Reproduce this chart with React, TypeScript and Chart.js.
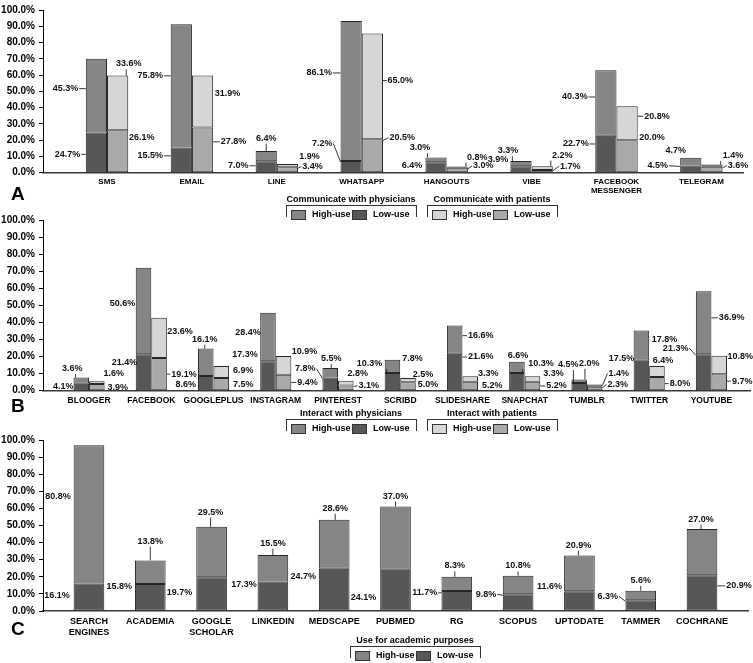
import React, { useEffect, useRef } from "react";
import { Chart, registerables } from "chart.js";

Chart.register(...registerables);

const FONT = '"Liberation Sans", Arial, Helvetica, sans-serif';

// ---------- Panel A: communication ----------
const A_CATEGORIES: (string | string[])[] = ["SMS", "EMAIL", "LINE", "WHATSAPP", "HANGOUTS", "VIBE", ["FACEBOOK", "MESSENGER"], "TELEGRAM"];
const A_PHYS_LOW = [24.7, 15.5, 7.0, 7.2, 6.4, 3.9, 22.7, 4.5];
const A_PHYS_HIGH = [45.3, 75.8, 6.4, 86.1, 3.0, 3.3, 40.3, 4.7];
const A_PAT_LOW = [26.1, 27.8, 3.4, 20.5, 3.0, 1.7, 20.0, 3.6];
const A_PAT_HIGH = [33.6, 31.9, 1.9, 65.0, 0.8, 2.2, 20.8, 1.4];

// ---------- Panel B: social media ----------
const B_CATEGORIES: (string | string[])[] = ["BLOOGER", "FACEBOOK", "GOOGLEPLUS", "INSTAGRAM", "PINTEREST", "SCRIBD", "SLIDESHARE", "SNAPCHAT", "TUMBLR", "TWITTER", "YOUTUBE"];
const B_PHYS_LOW = [4.1, 21.4, 8.6, 17.3, 7.8, 10.3, 21.6, 10.3, 4.5, 17.5, 21.3];
const B_PHYS_HIGH = [3.6, 50.6, 16.1, 28.4, 5.5, 7.8, 16.6, 6.6, 2.0, 17.8, 36.9];
const B_PAT_LOW = [3.9, 19.1, 7.5, 9.4, 3.1, 5.0, 5.2, 5.2, 2.3, 8.0, 9.7];
const B_PAT_HIGH = [1.6, 23.6, 6.9, 10.9, 2.8, 2.5, 3.3, 3.3, 1.4, 6.4, 10.8];

// ---------- Panel C: academic ----------
const C_CATEGORIES: (string | string[])[] = [["SEARCH", "ENGINES"], "ACADEMIA", ["GOOGLE", "SCHOLAR"], "LINKEDIN", "MEDSCAPE", "PUBMED", "RG", "SCOPUS", "UPTODATE", "TAMMER", "COCHRANE"];
const C_LOW = [16.1, 15.8, 19.7, 17.3, 24.7, 24.1, 11.7, 9.8, 11.6, 6.3, 20.9];
const C_HIGH = [80.8, 13.8, 29.5, 15.5, 28.6, 37.0, 8.3, 10.8, 20.9, 5.6, 27.0];

const Y_TICKS = [0, 10, 20, 30, 40, 50, 60, 70, 80, 90, 100];

// ---------- label placement (px offsets from segment centre) ----------
type Off = [number, number][];
const A_PHYS_LOW_OFF: Off = [[-29, 2], [-31, -4], [-28, -1], [-29, -23], [-24, -2], [-23, -10], [-30, -10], [-33, -3]];
const A_PHYS_HIGH_OFF: Off = [[-31, -7], [-31, -10], [0, -18], [-32, -18], [-16, -12], [-13, -13], [-31, -6], [-15, -11]];
const A_PAT_LOW_OFF: Off = [[24, -14], [31, -8], [25, -3], [30, -18], [26, -4], [28, -5], [25, -19], [26, -4]];
const A_PAT_HIGH_OFF: Off = [[11, -39], [25, -8], [22, -9], [28, -6], [20, -10], [20, -13], [30, -7], [21, -10]];

const B_PHYS_LOW_OFF: Off = [[-18, 0], [-19, -10], [-20, 1], [-23, -21], [-25, -15], [-23, -18], [26, -15], [24, -18], [-11, -22], [-20, -17], [-28, -24]];
const B_PHYS_HIGH_OFF: Off = [[-9, -12], [-21, -7], [-1, -23], [-20, -4], [1, -14], [20, -8], [26, -4], [1, -12], [10, -18], [23, -6], [28, -5]];
const B_PAT_LOW_OFF: Off = [[21, 0], [25, 0], [22, 0], [24, 0], [23, -2], [20, -2], [22, 0], [24, 0], [23, -4], [23, 0], [23, -1]];
const B_PAT_HIGH_OFF: Off = [[17, -9], [21, -6], [22, -1], [21, -14], [12, -10], [15, -6], [18, -5], [21, -5], [24, -12], [6, -11], [21, -8]];

const C_LOW_OFF: Off = [[-32, -1], [-31, -11], [-32, -1], [-29, -11], [-31, -13], [-32, 7], [-32, -8], [-32, -8], [-30, -14], [-33, -9], [37, -7]];
const C_HIGH_OFF: Off = [[-31, -18], [0, -31], [-1, -40], [0, -25], [1, -36], [0, -42], [-2, -18], [0, -19], [-1, -28], [0, -15], [-1, -33]];

const COL = {
  physHigh: "#858585",
  physLow: "#575757",
  patHigh: "#d6d6d6",
  patLow: "#a9a9a9",
  border: "#262626",
};

function labelPlugin(offsets: Off[]) {
  return {
    id: "segLabels",
    afterDatasetsDraw(chart: any) {
      const ctx = chart.ctx as CanvasRenderingContext2D;
      ctx.save();
      ctx.font = `bold 9px ${FONT}`;
      ctx.textAlign = "center";
      ctx.textBaseline = "middle";
      ctx.fillStyle = "#111";
      ctx.strokeStyle = "#222";
      ctx.lineWidth = 0.9;
      chart.data.datasets.forEach((ds: any, di: number) => {
        const meta = chart.getDatasetMeta(di);
        const off = offsets[di] || [];
        meta.data.forEach((el: any, i: number) => {
          const p = el.getProps(["x", "y", "base", "width"], true);
          const v = ds.data[i].y as number;
          const text = v.toFixed(1) + "%";
          const [dx, dy] = off[i] || [0, 0];
          const top = Math.min(p.y, p.base);
          const bot = Math.max(p.y, p.base);
          const x0 = p.x - p.width / 2;
          const x1 = p.x + p.width / 2;
          const cx = p.x + dx;
          const cy = (top + bot) / 2 + dy;
          const w = ctx.measureText(text).width;
          const h = 9;
          const lx0 = cx - w / 2, lx1 = cx + w / 2, ly1 = cy + h / 2;
          const clampY = (yy: number) => Math.min(Math.max(yy, top + 1), Math.max(bot - 1, top + 1));
          const gap = 4;
          let draw = false;
          ctx.beginPath();
          if (lx1 < x0 - gap) {
            ctx.moveTo(lx1 + 1, cy);
            ctx.lineTo(x0, clampY(cy));
            draw = true;
          } else if (lx0 > x1 + gap) {
            ctx.moveTo(x1, clampY(cy));
            ctx.lineTo(lx0 - 1, cy);
            draw = true;
          } else if (ly1 < top - gap) {
            const lxp = Math.min(Math.max(cx, x0 + 2), x1 - 2);
            ctx.moveTo(lxp, ly1 + 1);
            ctx.lineTo(lxp, top);
            draw = true;
          }
          if (draw) ctx.stroke();
          ctx.fillText(text, cx, cy);
        });
      });
      ctx.restore();
    },
  };
}

function bar(label: string, values: number[], color: string, stack: string) {
  return {
    label,
    data: values.map((v, i) => ({ x: i, y: v })),
    backgroundColor: color,
    borderColor: COL.border,
    borderWidth: 1,
    borderSkipped: false as const,
    stack,
    categoryPercentage: 0.5,
    barPercentage: 1.0,
  };
}

interface PanelOpts {
  cats: (string | string[])[];
  datasets: any[];
  offsets: Off[];
  min: number;
  max: number;
  padTop: number;
  padRight: number;
  axisH: number;
  tickFont: number;
  tickLH: number;
}

function makeConfig(o: PanelOpts): any {
  return {
    type: "bar",
    data: { datasets: o.datasets },
    plugins: [labelPlugin(o.offsets)],
    options: {
      animation: false,
      responsive: false,
      devicePixelRatio: 1,
      layout: { padding: { top: o.padTop, right: o.padRight, left: 0, bottom: 0 } },
      plugins: { legend: { display: false }, tooltip: { enabled: false } },
      scales: {
        x: {
          type: "linear",
          stacked: true,
          min: o.min,
          max: o.max,
          bounds: "data",
          offset: false,
          grid: { display: false, drawTicks: false },
          border: { display: true, color: "#3a3a3a", width: 1.5 },
          afterBuildTicks: (ax: any) => {
            ax.ticks = o.cats.map((_, i) => ({ value: i }));
          },
          afterFit: (s: any) => {
            s.height = o.axisH;
          },
          ticks: {
            autoSkip: false,
            maxRotation: 0,
            minRotation: 0,
            padding: 5,
            color: "#000",
            font: { family: FONT, size: o.tickFont, weight: "bold", lineHeight: o.tickLH },
            callback: (v: any) => o.cats[Math.round(Number(v))] ?? "",
          },
        },
        y: {
          stacked: true,
          min: 0,
          max: 100,
          afterBuildTicks: (ax: any) => {
            ax.ticks = Y_TICKS.map((t) => ({ value: t }));
          },
          afterFit: (s: any) => {
            s.width = 43;
          },
          grid: { drawOnChartArea: false, drawTicks: true, tickLength: 4, color: "#000" },
          border: { display: true, color: "#000", width: 1 },
          ticks: {
            padding: 4,
            color: "#000",
            font: { family: FONT, size: 10, weight: "bold" },
            callback: (v: any) => Number(v).toFixed(1) + "%",
          },
        },
      },
    },
  };
}

function Panel({ top, height, opts }: { top: number; height: number; opts: PanelOpts }) {
  const ref = useRef<HTMLCanvasElement>(null);
  useEffect(() => {
    const chart = new Chart(ref.current as HTMLCanvasElement, makeConfig(opts));
    return () => chart.destroy();
  }, []);
  return (
    <canvas
      ref={ref}
      width={753}
      height={height}
      style={{ position: "absolute", left: 0, top, width: 753, height, display: "block" }}
    />
  );
}

interface LegendItem {
  label: string;
  color: string;
}

function LegendGroup({ left, top, title, items }: { left: number; top: number; title: string; items: LegendItem[] }) {
  const textStyle: React.CSSProperties = {
    position: "absolute",
    font: `bold 9px ${FONT}`,
    lineHeight: "10px",
    whiteSpace: "nowrap",
    color: "#000",
  };
  return (
    <div style={{ position: "absolute", left, top, width: 130, height: 26 }}>
      <div style={{ ...textStyle, left: -20, width: 170, top: 0, textAlign: "center" }}>{title}</div>
      <div
        style={{
          position: "absolute",
          left: 0,
          top: 11,
          width: 129,
          height: 11,
          borderTop: "1px solid #333",
          borderLeft: "1px solid #333",
          borderRight: "1px solid #333",
        }}
      />
      {items.map((it, k) => (
        <React.Fragment key={k}>
          <div
            style={{
              position: "absolute",
              left: 5 + k * 61,
              top: 16,
              width: 13,
              height: 8,
              background: it.color,
              border: "1px solid #333",
            }}
          />
          <div style={{ ...textStyle, left: 26 + k * 61, top: 15 }}>{it.label}</div>
        </React.Fragment>
      ))}
    </div>
  );
}

const letterStyle: React.CSSProperties = {
  position: "absolute",
  left: 11,
  font: `bold 19px ${FONT}`,
  lineHeight: "19px",
  color: "#000",
};

export default function App() {
  const optsA: PanelOpts = {
    cats: A_CATEGORIES,
    datasets: [
      bar("Physicians low-use", A_PHYS_LOW, COL.physLow, "phys"),
      bar("Physicians high-use", A_PHYS_HIGH, COL.physHigh, "phys"),
      bar("Patients low-use", A_PAT_LOW, COL.patLow, "pat"),
      bar("Patients high-use", A_PAT_HIGH, COL.patHigh, "pat"),
    ],
    offsets: [A_PHYS_LOW_OFF, A_PHYS_HIGH_OFF, A_PAT_LOW_OFF, A_PAT_HIGH_OFF],
    min: -0.754,
    max: 7.49,
    padTop: 5.7,
    padRight: 10,
    axisH: 27.3,
    tickFont: 8,
    tickLH: 1.1,
  };
  const optsB: PanelOpts = {
    cats: B_CATEGORIES,
    datasets: [
      bar("Physicians low-use", B_PHYS_LOW, COL.physLow, "phys"),
      bar("Physicians high-use", B_PHYS_HIGH, COL.physHigh, "phys"),
      bar("Patients low-use", B_PAT_LOW, COL.patLow, "pat"),
      bar("Patients high-use", B_PAT_HIGH, COL.patHigh, "pat"),
    ],
    offsets: [B_PHYS_LOW_OFF, B_PHYS_HIGH_OFF, B_PAT_LOW_OFF, B_PAT_HIGH_OFF],
    min: -0.74,
    max: 10.62,
    padTop: 6.7,
    padRight: 3,
    axisH: 19.3,
    tickFont: 8.5,
    tickLH: 1.2,
  };
  const optsC: PanelOpts = {
    cats: C_CATEGORIES,
    datasets: [
      { ...bar("Low-use", C_LOW, COL.physLow, "acad") },
      { ...bar("High-use", C_HIGH, COL.physHigh, "acad") },
    ],
    offsets: [C_LOW_OFF, C_HIGH_OFF],
    min: -0.75,
    max: 10.75,
    padTop: 6.7,
    padRight: 5,
    axisH: 52,
    tickFont: 9,
    tickLH: 1.2,
  };

  return (
    <div style={{ position: "absolute", left: 0, top: 0, width: 753, height: 663, background: "#fff", overflow: "hidden" }}>
      <Panel top={0} height={200} opts={optsA} />
      <Panel top={210} height={200} opts={optsB} />
      <Panel top={430} height={233} opts={optsC} />

      <div style={{ ...letterStyle, top: 184 }}>A</div>
      <div style={{ ...letterStyle, top: 395.5 }}>B</div>
      <div style={{ ...letterStyle, top: 619 }}>C</div>

      <LegendGroup
        left={286}
        top={194}
        title="Communicate with physicians"
        items={[
          { label: "High-use", color: COL.physHigh },
          { label: "Low-use", color: COL.physLow },
        ]}
      />
      <LegendGroup
        left={427}
        top={194}
        title="Communicate with patients"
        items={[
          { label: "High-use", color: COL.patHigh },
          { label: "Low-use", color: COL.patLow },
        ]}
      />
      <LegendGroup
        left={286}
        top={408}
        title="Interact with physicians"
        items={[
          { label: "High-use", color: COL.physHigh },
          { label: "Low-use", color: COL.physLow },
        ]}
      />
      <LegendGroup
        left={427}
        top={408}
        title="Interact with patients"
        items={[
          { label: "High-use", color: COL.patHigh },
          { label: "Low-use", color: COL.patLow },
        ]}
      />
      <LegendGroup
        left={350}
        top={635}
        title="Use for academic purposes"
        items={[
          { label: "High-use", color: COL.physHigh },
          { label: "Low-use", color: COL.physLow },
        ]}
      />
    </div>
  );
}
